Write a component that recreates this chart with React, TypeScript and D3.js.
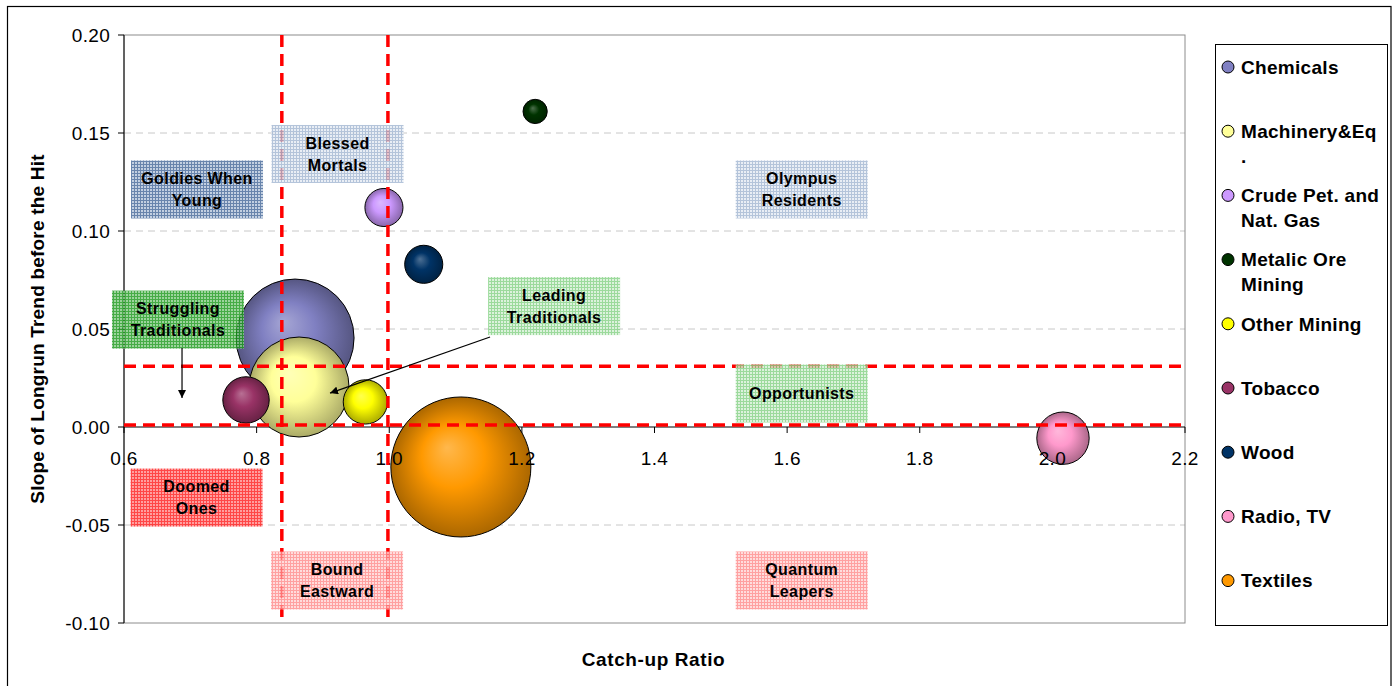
import React from "react";
import * as d3 from "d3";

// Sectors plotted as bubbles: catch-up ratio vs. slope of the long-run trend
const sectors = [
  "Chemicals",
  "Machinery&Eq.",
  "Crude Pet. and Nat. Gas",
  "Metalic Ore Mining",
  "Other Mining",
  "Tobacco",
  "Wood",
  "Radio, TV",
  "Textiles",
];
const legendLines = [
  ["Chemicals"],
  ["Machinery&Eq", "."],
  ["Crude Pet. and", "Nat. Gas"],
  ["Metalic Ore", "Mining"],
  ["Other Mining"],
  ["Tobacco"],
  ["Wood"],
  ["Radio, TV"],
  ["Textiles"],
];
const catchUpRatio = [0.858, 0.864, 0.992, 1.22, 0.964, 0.784, 1.052, 2.016, 1.108];
const trendSlope = [0.0454, 0.0204, 0.112, 0.161, 0.0128, 0.0138, 0.083, -0.0057, -0.0204];
const bubbleSize = [0.71, 0.51, 0.074, 0.03, 0.1, 0.11, 0.074, 0.14, 1.0];
const sectorColors = [
  "#8080c2",
  "#ffff99",
  "#cc99ff",
  "#003300",
  "#ffff00",
  "#993366",
  "#003366",
  "#ff99cc",
  "#ff9900",
];

const xTicks = [0.6, 0.8, 1.0, 1.2, 1.4, 1.6, 1.8, 2.0, 2.2];
const yTicks = [0.2, 0.15, 0.1, 0.05, 0.0, -0.05, -0.1];

// Quadrant thresholds (red dashed lines)
const catchUpThresholds = [0.838, 0.998];
const slopeThresholds = [0.031, 0.001];

// Region labels: centre in data units, text lines, fill style
const regionLabels = [
  { cx: 0.7101, cy: 0.1212, lines: ["Goldies When", "Young"], style: "blueDark" },
  { cx: 0.922, cy: 0.1393, lines: ["Blessed", "Mortals"], style: "blueLight" },
  { cx: 1.622, cy: 0.1212, lines: ["Olympus", "Residents"], style: "blueLight" },
  { cx: 0.6814, cy: 0.0548, lines: ["Struggling", "Traditionals"], style: "greenDark" },
  { cx: 1.2486, cy: 0.0617, lines: ["Leading", "Traditionals"], style: "greenLight" },
  { cx: 1.622, cy: 0.0171, lines: ["Opportunists"], style: "greenLight" },
  { cx: 0.7094, cy: -0.036, lines: ["Doomed", "Ones"], style: "redDark" },
  { cx: 0.9213, cy: -0.0783, lines: ["Bound", "Eastward"], style: "redLight" },
  { cx: 1.622, cy: -0.0783, lines: ["Quantum", "Leapers"], style: "redLight" },
];

// Arrows from labels to the bubbles they describe (data units)
const pointerArrows = [
  { from: [0.6875, 0.0403], to: [0.6875, 0.0148] },
  { from: [1.152, 0.0459], to: [0.9107, 0.0173] },
];

const fillStyles: Record<string, { bg: string; line: string }> = {
  blueDark: { bg: "#b4c4da", line: "#47699a" },
  blueLight: { bg: "#e4eaf3", line: "#a3b7d2" },
  greenDark: { bg: "#86c986", line: "#1d9a1d" },
  greenLight: { bg: "#d4efd4", line: "#86d286" },
  redDark: { bg: "#ff8a8a", line: "#ff1f1f" },
  redLight: { bg: "#ffd4d4", line: "#ff8c8c" },
};

const W = 1397;
const H = 686;
const plot = { left: 124, right: 1185, top: 35, bottom: 623 };
const font = "Arial, 'Liberation Sans', Helvetica, sans-serif";

const fmtY = (t: number) => d3.format(".2f")(t).replace("\u2212", "-");
const fmtX = (t: number) => d3.format(".1f")(t);

export default function App() {
  const x = d3.scaleLinear().domain([0.6, 2.2]).range([plot.left, plot.right]);
  const y = d3.scaleLinear().domain([-0.1, 0.2]).range([plot.bottom, plot.top]);
  const r = d3.scaleSqrt().domain([0, 1]).range([0, 70]);

  const boxW = 132;
  const boxH = 58;

  const lighter = (c: string, k: number) => d3.interpolateRgb(c, "#ffffff")(k);
  const darker = (c: string, k: number) => d3.interpolateRgb(c, "#000000")(k);

  return (
    <svg
      width={W}
      height={H}
      style={{ position: "absolute", left: 0, top: 0, background: "#fff" }}
      fontFamily={font}
    >
      <defs>
        {sectorColors.map((c, i) => (
          <radialGradient
            key={i}
            id={`bub${i}`}
            cx="0.5"
            cy="0.5"
            r="0.5"
            fx="0.4"
            fy="0.36"
          >
            <stop offset="0%" stopColor={lighter(c, 0.3)} />
            <stop offset="45%" stopColor={c} />
            <stop offset="100%" stopColor={darker(c, 0.33)} />
          </radialGradient>
        ))}
        {Object.entries(fillStyles).map(([k, s]) => (
          <pattern key={k} id={`pat-${k}`} width={3} height={3} patternUnits="userSpaceOnUse">
            <rect width={3} height={3} fill={s.bg} />
            <rect x={0} y={2} width={3} height={1} fill={s.line} />
            <rect x={2} y={0} width={1} height={3} fill={s.line} />
          </pattern>
        ))}
        <marker
          id="arrowHead"
          viewBox="0 0 10 10"
          refX={10}
          refY={5}
          markerWidth={8}
          markerHeight={8}
          orient="auto"
          markerUnits="userSpaceOnUse"
        >
          <path d="M0,0 L10,5 L0,10 z" fill="#000" />
        </marker>
      </defs>

      {/* outer chart frame */}
      <rect x={7.5} y={6.5} width={1383.5} height={690} fill="none" stroke="#000" strokeWidth={1.2} />

      {/* gridlines */}
      {yTicks
        .filter((t) => t !== 0 && t !== 0.2 && t !== -0.1)
        .map((t) => (
          <line
            key={t}
            x1={plot.left}
            x2={plot.right}
            y1={y(t)}
            y2={y(t)}
            stroke="#c8c8c8"
            strokeWidth={1}
            strokeDasharray="7,5"
          />
        ))}

      {/* plot area border */}
      <rect
        x={plot.left}
        y={plot.top}
        width={plot.right - plot.left}
        height={plot.bottom - plot.top}
        fill="none"
        stroke="#8c8c8c"
        strokeWidth={1}
      />

      {/* axes lines */}
      <line x1={plot.left} x2={plot.left} y1={plot.top} y2={plot.bottom} stroke="#000" strokeWidth={1} />
      <line x1={plot.left} x2={plot.right} y1={y(0)} y2={y(0)} stroke="#000" strokeWidth={1} />
      {yTicks.map((t) => (
        <line key={t} x1={plot.left - 6} x2={plot.left} y1={y(t)} y2={y(t)} stroke="#000" />
      ))}
      {xTicks.map((t) => (
        <line key={t} x1={x(t)} x2={x(t)} y1={y(0)} y2={y(0) + 6} stroke="#000" />
      ))}

      {/* bubbles */}
      {sectors.map((s, i) => (
        <circle
          key={s}
          cx={x(catchUpRatio[i])}
          cy={y(trendSlope[i])}
          r={r(bubbleSize[i])}
          fill={`url(#bub${i})`}
          stroke="#000"
          strokeWidth={1}
        />
      ))}

      {/* tick labels */}
      {yTicks.map((t) => (
        <text
          key={t}
          x={plot.left - 14}
          y={y(t)}
          dy="0.36em"
          textAnchor="end"
          fontSize={19}
          letterSpacing={0.3}
          fill="#000"
        >
          {fmtY(t)}
        </text>
      ))}
      {xTicks.map((t) => (
        <text
          key={t}
          x={x(t)}
          y={y(0) + 38}
          textAnchor="middle"
          fontSize={19}
          letterSpacing={0.3}
          fill="#000"
        >
          {fmtX(t)}
        </text>
      ))}

      {/* threshold lines */}
      {catchUpThresholds.map((t) => (
        <line
          key={t}
          x1={x(t)}
          x2={x(t)}
          y1={plot.top}
          y2={plot.bottom}
          stroke="#ff0000"
          strokeWidth={3.5}
          strokeDasharray="12,7"
        />
      ))}
      {slopeThresholds.map((t) => (
        <line
          key={t}
          x1={plot.left}
          x2={plot.right + 3}
          y1={y(t)}
          y2={y(t)}
          stroke="#ff0000"
          strokeWidth={3.5}
          strokeDasharray="12,7"
        />
      ))}

      {/* region labels */}
      {regionLabels.map((b) => {
        const cx = x(b.cx);
        const cy = y(b.cy);
        const n = b.lines.length;
        return (
          <g key={b.lines.join(" ")}>
            <rect
              x={cx - boxW / 2}
              y={cy - boxH / 2}
              width={boxW}
              height={boxH}
              fill={`url(#pat-${b.style})`}
              opacity={0.82}
            />
            {b.lines.map((ln, j) => (
              <text
                key={j}
                x={cx}
                y={cy + (j - (n - 1) / 2) * 22}
                dy="0.36em"
                textAnchor="middle"
                fontSize={16}
                letterSpacing={0.4}
                fontWeight="bold"
                fill="#000"
              >
                {ln}
              </text>
            ))}
          </g>
        );
      })}

      {/* pointer arrows */}
      {pointerArrows.map((a, i) => (
        <line
          key={i}
          x1={x(a.from[0])}
          y1={y(a.from[1])}
          x2={x(a.to[0])}
          y2={y(a.to[1])}
          stroke="#000"
          strokeWidth={1.2}
          markerEnd="url(#arrowHead)"
        />
      ))}

      {/* axis titles */}
      <text
        x={plot.left + (plot.right - plot.left) / 2 - 1}
        y={666}
        textAnchor="middle"
        fontSize={19}
        letterSpacing={0.6}
        fontWeight="bold"
      >
        Catch-up Ratio
      </text>
      <text
        transform={`translate(44, ${(plot.top + plot.bottom) / 2}) rotate(-90)`}
        textAnchor="middle"
        fontSize={19}
        letterSpacing={0.2}
        fontWeight="bold"
      >
        Slope of Longrun Trend before the Hit
      </text>

      {/* legend */}
      <rect x={1215.5} y={44.5} width={172} height={581} fill="#fff" stroke="#000" strokeWidth={1} />
      {legendLines.map((lines, i) => {
        const cy = 67 + i * 64.2;
        return (
          <g key={i}>
            <circle
              cx={1228}
              cy={cy}
              r={6}
              fill={sectorColors[i]}
              stroke="#000"
              strokeWidth={1}
            />
            {lines.map((ln, j) => (
              <text
                key={j}
                x={1241}
                y={cy + j * 24.5}
                dy="0.36em"
                fontSize={19}
                fontWeight="bold"
                letterSpacing={0.3}
                fill="#000"
              >
                {ln}
              </text>
            ))}
          </g>
        );
      })}
    </svg>
  );
}
